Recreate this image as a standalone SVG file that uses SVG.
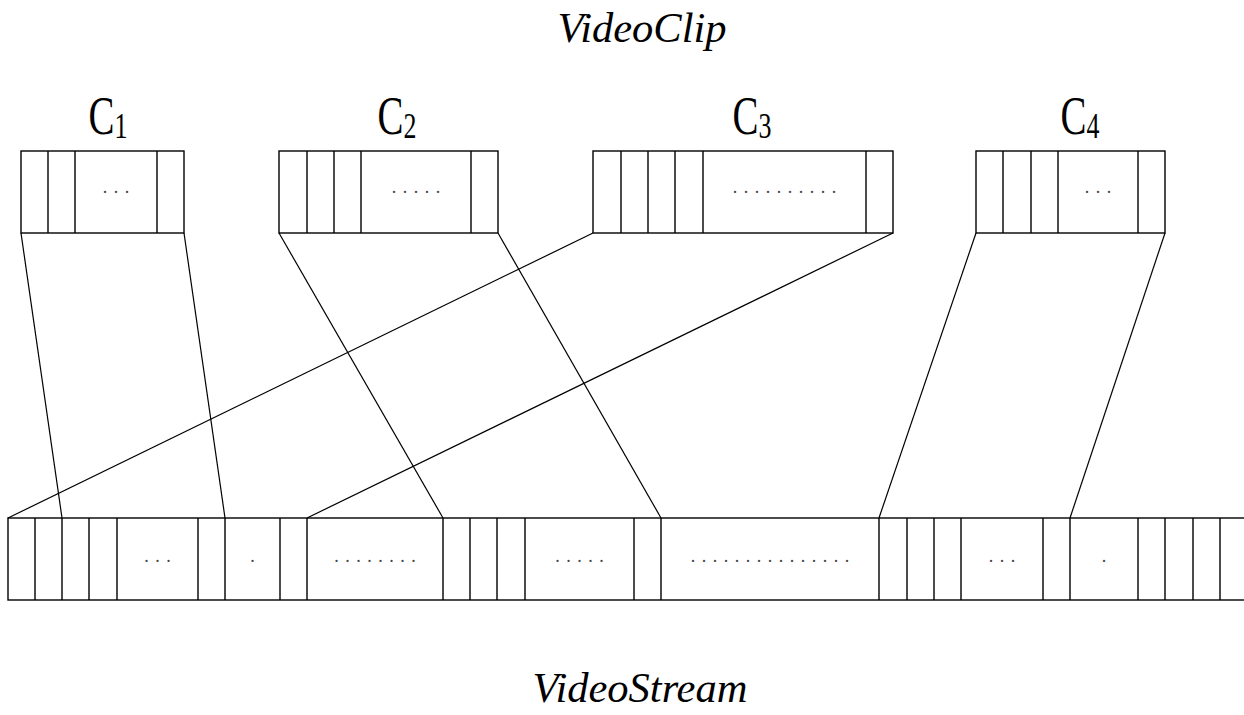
<svg xmlns="http://www.w3.org/2000/svg" width="1244" height="715" viewBox="0 0 1244 715">
<style>
.box{fill:none;stroke:#000;stroke-width:1.4}
.div{stroke:#000;stroke-width:1.4}
.con{stroke:#000;stroke-width:1.2;fill:none}
.title{font-family:"Liberation Serif",serif;font-style:italic;font-size:42.5px;fill:#000}
.lab{font-family:"Liberation Serif",serif;font-size:54px;fill:#000}
.sub{font-size:36px}
.dots{font-family:"Liberation Serif",serif;font-size:18px;letter-spacing:6.5px;fill:#444}
</style>
<rect width="1244" height="715" fill="#fff"/>
<text class="title" x="642" y="42" text-anchor="middle">VideoClip</text>
<text class="title" x="640" y="702" text-anchor="middle">VideoStream</text>

<g id="connectors">
<line class="con" x1="21" y1="233" x2="62" y2="518"/>
<line class="con" x1="184" y1="233" x2="225" y2="518"/>
<line class="con" x1="279" y1="233" x2="443" y2="518"/>
<line class="con" x1="498" y1="233" x2="661" y2="518"/>
<line class="con" x1="593" y1="233" x2="8" y2="518"/>
<line class="con" x1="893" y1="233" x2="307" y2="518"/>
<line class="con" x1="976" y1="233" x2="879" y2="518"/>
<line class="con" x1="1165" y1="233" x2="1070" y2="518"/>
</g>

<g id="C1">
<text class="lab" transform="translate(108 134) scale(0.72 1)" text-anchor="middle">C<tspan class="sub" dy="4">1</tspan></text>
<rect class="box" x="21" y="151" width="163" height="82"/>
<path class="div" d="M48 151V233M75 151V233M157 151V233"/>
<text class="dots" x="119.25" y="193" text-anchor="middle">...</text>
</g>

<g id="C2">
<text class="lab" transform="translate(397 134) scale(0.72 1)" text-anchor="middle">C<tspan class="sub" dy="4">2</tspan></text>
<rect class="box" x="279" y="151" width="219" height="82"/>
<path class="div" d="M307 151V233M334 151V233M361 151V233M471 151V233"/>
<text class="dots" x="419.25" y="193" text-anchor="middle">.....</text>
</g>

<g id="C3">
<text class="lab" transform="translate(752 134) scale(0.72 1)" text-anchor="middle">C<tspan class="sub" dy="4">3</tspan></text>
<rect class="box" x="593" y="151" width="300" height="82"/>
<path class="div" d="M621 151V233M648 151V233M675 151V233M703 151V233M866 151V233"/>
<text class="dots" x="787.75" y="193" text-anchor="middle">..........</text>
</g>

<g id="C4">
<text class="lab" transform="translate(1080 134) scale(0.72 1)" text-anchor="middle">C<tspan class="sub" dy="4">4</tspan></text>
<rect class="box" x="976" y="151" width="189" height="82"/>
<path class="div" d="M1003 151V233M1031 151V233M1058 151V233M1138 151V233"/>
<text class="dots" x="1101.25" y="193" text-anchor="middle">...</text>
</g>

<g id="stream">
<rect class="box" x="8" y="518" width="1250" height="82"/>
<path class="div" d="M35 518V600M62 518V600M89 518V600M117 518V600M198 518V600M225 518V600M280 518V600M307 518V600M443 518V600M470 518V600M497 518V600M525 518V600M634 518V600M661 518V600M879 518V600M907 518V600M934 518V600M961 518V600M1043 518V600M1070 518V600M1138 518V600M1165 518V600M1193 518V600M1220 518V600"/>
<text class="dots" x="160.75" y="562" text-anchor="middle">...</text>
<text class="dots" x="255.75" y="562" text-anchor="middle">.</text>
<text class="dots" x="378.25" y="562" text-anchor="middle">........</text>
<text class="dots" x="582.75" y="562" text-anchor="middle">.....</text>
<text class="dots" x="773.25" y="562" text-anchor="middle">...............</text>
<text class="dots" x="1005.25" y="562" text-anchor="middle">...</text>
<text class="dots" x="1107.25" y="562" text-anchor="middle">.</text>
</g>
</svg>
